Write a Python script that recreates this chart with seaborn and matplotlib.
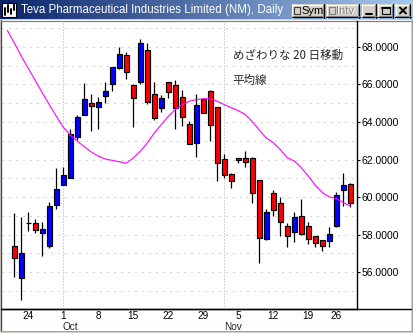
import numpy as np
import pandas as pd
import matplotlib
matplotlib.use("Agg")
import matplotlib.pyplot as plt
import matplotlib.transforms as mtransforms
from matplotlib.patches import Rectangle
import seaborn as sns

# ---------------- data ----------------
nan = np.nan
dates = ["2001-09-19", "2001-09-20", "2001-09-21", "2001-09-24", "2001-09-25", "2001-09-26",
         "2001-09-27", "2001-09-28", "2001-10-01", "2001-10-02", "2001-10-03", "2001-10-04",
         "2001-10-05", "2001-10-08", "2001-10-09", "2001-10-10", "2001-10-11", "2001-10-12",
         "2001-10-15", "2001-10-16", "2001-10-17", "2001-10-18", "2001-10-19", "2001-10-22",
         "2001-10-23", "2001-10-24", "2001-10-25", "2001-10-26", "2001-10-29", "2001-10-30",
         "2001-10-31", "2001-11-01", "2001-11-02", "2001-11-05", "2001-11-06", "2001-11-07",
         "2001-11-08", "2001-11-09", "2001-11-12", "2001-11-13", "2001-11-14", "2001-11-15",
         "2001-11-16", "2001-11-19", "2001-11-20", "2001-11-21", "2001-11-23", "2001-11-26",
         "2001-11-27", "2001-11-28"]
opens = [nan, 57.38, 55.69, 58.62, 58.60, 58.11, 57.42, 59.60, 60.66, 61.03, 63.20, 64.37,
         65.00, 64.77, 65.37, 66.01, 66.89, 67.56, 65.97, 66.15, 67.82, 65.48, 64.74, 66.11,
         65.97, 65.32, 63.89, 62.89, 65.21, 65.65, 64.79, 62.04, 61.25, 62.09, 62.09, 62.09,
         60.89, 57.77, 60.20, 59.71, 58.44, 58.12, 58.97, 58.44, 57.91, 57.70, 57.65, 58.48,
         60.40, 60.72]
highs = [nan, 59.15, 58.92, 59.23, 58.86, 58.67, 59.73, 61.56, 61.62, 63.63, 64.38, 66.06,
         65.50, 65.34, 66.13, 66.91, 68.00, 67.70, 66.00, 68.41, 68.18, 66.10, 65.44, 66.15,
         66.24, 65.71, 64.07, 65.50, 65.25, 65.71, 64.82, 62.30, 61.27, 62.10, 62.44, 62.14,
         60.90, 59.36, 60.36, 60.03, 58.62, 59.22, 59.92, 58.65, 57.92, 57.71, 58.39, 60.28,
         61.30, 60.73]
lows = [nan, 55.74, 54.51, 58.21, 58.09, 56.89, 57.29, 59.36, 60.62, 61.00, 63.06, 64.35,
        63.50, 63.63, 65.00, 65.62, 66.80, 66.31, 63.71, 66.01, 64.97, 64.12, 64.51, 65.27,
        63.64, 63.77, 62.80, 62.14, 64.45, 62.97, 60.86, 61.00, 60.50, 61.79, 61.62, 59.71,
        56.48, 57.74, 58.97, 57.95, 57.33, 57.59, 57.98, 57.51, 57.33, 57.12, 57.37, 58.39,
        59.53, 59.48]
closes = [nan, 56.75, 57.01, 58.62, 58.23, 58.28, 59.50, 60.45, 61.19, 63.36, 64.26, 65.21,
          64.84, 65.07, 65.65, 66.91, 67.59, 66.68, 65.27, 68.18, 65.05, 64.19, 65.27, 65.58,
          64.74, 64.26, 62.83, 64.90, 64.47, 63.84, 61.83, 61.19, 60.87, 62.00, 61.88, 60.24,
          57.81, 59.23, 59.32, 58.65, 57.95, 58.92, 58.02, 57.75, 57.54, 57.42, 58.02, 60.10,
          60.63, 59.71]
ma20 = [68.88, 68.20, 67.50, 66.85, 66.20, 65.55, 64.92, 64.30, 63.72, 63.30, 62.98, 62.68,
        62.40, 62.18, 62.03, 61.95, 61.88, 61.80, 62.08, 62.44, 62.88, 63.41, 63.86, 64.30,
        64.66, 64.92, 65.10, 65.19, 65.23, 65.23, 65.10, 64.92, 64.75, 64.60, 64.39, 64.02,
        63.56, 63.15, 62.89, 62.53, 62.09, 61.92, 61.56, 61.12, 60.63, 60.24, 60.01, 59.92,
        59.71, 59.52]
price_ticks = [56, 58, 60, 62, 64, 66, 68]
title = "Teva Pharmaceutical Industries Limited (NM), Daily"
note_lines = ["めざわりな 20 日移動", "平均線"]

df = pd.DataFrame({"date": pd.to_datetime(dates), "open": opens, "high": highs,
                   "low": lows, "close": closes, "ma": ma20})
df["pos"] = np.arange(len(df))

# ---------------- style ----------------
sns.set_style("white")
plt.rcParams['font.family'] = ['Liberation Sans', 'DejaVu Sans']

W, H = 414, 333
fig = plt.figure(figsize=(W / 100, H / 100), dpi=100)
fig.patch.set_facecolor('#D4D0C8')

# window frame (pixel coordinates)
fr = fig.add_axes([0, 0, 1, 1], zorder=0)
fr.axis('off')
fr.add_patch(Rectangle((1.5, 20), 410, 310.5, facecolor='white', edgecolor='none'))
fr.plot([1.5, 1.5], [20, 331], color='#404040', lw=0.9)
fr.plot([1.5, 411.5], [20.5, 20.5], color='#808080', lw=0.9)
fr.plot([1.5, 411.5], [309.3, 309.3], color='black', lw=1.0)
fr.plot([411.8, 411.8], [20, 331], color='#A0A0A0', lw=0.7)
fr.plot([1.5, 412], [330.8, 330.8], color='#A0A0A0', lw=0.7)

# title bar gradient
c0 = np.array([10, 36, 106]) / 255
c1 = np.array([166, 202, 240]) / 255
t = np.linspace(0, 1, 414)[None, :, None]
grad = c0 + (c1 - c0) * t
fr.imshow(grad, extent=(0, W, 19, 0), aspect='auto', interpolation='bilinear', zorder=1)

# icon
fr.add_patch(Rectangle((2.5, 2.5), 14, 14, facecolor='white', edgecolor='black', lw=0.8, zorder=2))
for xx, y0, y1 in [(5.5, 8, 15), (8.5, 5, 12), (11.5, 9, 14), (14, 4, 10)]:
    fr.plot([xx, xx], [y0, y1], color='black', lw=1.4, zorder=3)
fr.text(21, 10.5, title, color='white', fontsize=8.3, va='center', ha='left', zorder=3,
        family=['Liberation Sans', 'DejaVu Sans'])


def button(x0, y0, x1, y1):
    fr.add_patch(Rectangle((x0, y0), x1 - x0, y1 - y0, facecolor='#D4D0C8', edgecolor='none', zorder=2))
    fr.plot([x0, x1], [y0 + 0.5, y0 + 0.5], color='white', lw=0.8, zorder=3)
    fr.plot([x0 + 0.5, x0 + 0.5], [y0, y1], color='white', lw=0.8, zorder=3)
    fr.plot([x0, x1], [y1 - 0.5, y1 - 0.5], color='black', lw=0.8, zorder=3)
    fr.plot([x1 - 0.5, x1 - 0.5], [y0, y1], color='black', lw=0.8, zorder=3)
    fr.plot([x0 + 1, x1 - 1], [y1 - 1.5, y1 - 1.5], color='#808080', lw=0.8, zorder=3)
    fr.plot([x1 - 1.5, x1 - 1.5], [y0 + 1, y1 - 1], color='#808080', lw=0.8, zorder=3)


button(292, 4, 324.5, 17.5)
fr.add_patch(Rectangle((294.5, 7), 6, 7, facecolor='#D4D0C8', edgecolor='#404040', lw=0.8, zorder=4))
fr.text(301.5, 10.8, "Sym", fontsize=8, color='black', va='center', ha='left', zorder=4)
button(326.5, 4, 360, 17.5)
fr.add_patch(Rectangle((329, 7), 6, 7, facecolor='#D4D0C8', edgecolor='#808080', lw=0.8, zorder=4))
fr.text(337, 11.3, "Intv", fontsize=8, color='white', va='center', ha='left', zorder=4)
fr.text(336.5, 10.8, "Intv", fontsize=8, color='#808080', va='center', ha='left', zorder=5)
button(362, 4, 377, 17.5)
fr.plot([366, 372], [13.5, 13.5], color='black', lw=1.5, zorder=4)
button(378, 4, 393.5, 17.5)
fr.add_patch(Rectangle((382, 7), 8, 7, facecolor='none', edgecolor='black', lw=0.8, zorder=4))
fr.plot([382, 390], [7.5, 7.5], color='black', lw=1.4, zorder=4)
button(395.5, 4, 411, 17.5)
fr.plot([400, 406], [7.5, 13.5], color='black', lw=1.4, zorder=4)
fr.plot([400, 406], [13.5, 7.5], color='black', lw=1.4, zorder=4)
fr.set_xlim(0, W)
fr.set_ylim(H, 0)

# ---------------- chart ----------------
ax = fig.add_axes([2 / W, (H - 309.3) / H, 355.3 / W, 288.3 / H], zorder=1)
ax.set_facecolor('none')

for v in range(54, 70):
    ax.axhline(v, color='#A8A8A8', lw=0.72, ls=(0, (1, 6)), zorder=0)

months = df["date"].dt.month
month_starts = df.index[(months != months.shift()) & (df.index > 0)]
for p in month_starts:
    ax.axvline(p, color='#A8A8A8', lw=0.72, ls=(0, (1, 2)), zorder=0)

cd = df.dropna(subset=["open"])
up = cd["close"] > cd["open"]
down = cd["close"] < cd["open"]
flat = cd["close"] == cd["open"]
ax.vlines(cd["pos"], cd["low"], cd["high"], color='black', lw=0.9, zorder=2)
for mask, col in [(up, '#0000FF'), (down, '#FF0000'), (flat, 'black')]:
    sub = cd[mask]
    ax.bar(sub["pos"], (sub["close"] - sub["open"]).abs(), bottom=sub[["open", "close"]].min(axis=1),
           width=0.72, color=col, edgecolor='black', linewidth=0.85, zorder=3)

sns.lineplot(data=df, x="pos", y="ma", color='#FF00FF', lw=0.8, ax=ax, zorder=4, legend=False)

ax.set_xlim(-0.757, 50.0)
ax.set_ylim(54.03, 69.37)
ax.set_xlabel("")
ax.set_ylabel("")

# y axis on the right
ax.yaxis.tick_right()
ax.set_yticks(price_ticks)
ax.set_yticklabels([f"{v:.4f}" for v in price_ticks])
ax.tick_params(axis='y', direction='out', length=2, width=0.8, pad=0.8, labelsize=7.5, colors='black')

# x axis: Mondays
mondays = df[df["date"].dt.weekday == 0]
ax.set_xticks(mondays["pos"])
ax.set_xticklabels([str(d.day) for d in mondays["date"]])
ax.tick_params(axis='x', length=0, pad=1.2, labelsize=7.2, colors='black')

trans = mtransforms.blended_transform_factory(ax.transData, ax.transAxes)
for p in month_starts:
    ax.text(p - 0.05, -0.0615, df.loc[p, "date"].strftime("%b"), transform=trans,
            ha='left', va='center', fontsize=7.2, clip_on=False)

for s in ["left", "top"]:
    ax.spines[s].set_visible(False)
ax.spines["right"].set_color('black')
ax.spines["right"].set_linewidth(1.0)
ax.spines["bottom"].set_color('black')
ax.spines["bottom"].set_linewidth(1.0)

ax.text(0.649, 0.879, note_lines[0], transform=ax.transAxes, ha='left', va='center',
        fontsize=8.3, family=['Noto Sans CJK JP', 'DejaVu Sans'])
ax.text(0.649, 0.795, note_lines[1], transform=ax.transAxes, ha='left', va='center',
        fontsize=8.3, family=['Noto Sans CJK JP', 'DejaVu Sans'])

fig.savefig("out.png", dpi=100)
